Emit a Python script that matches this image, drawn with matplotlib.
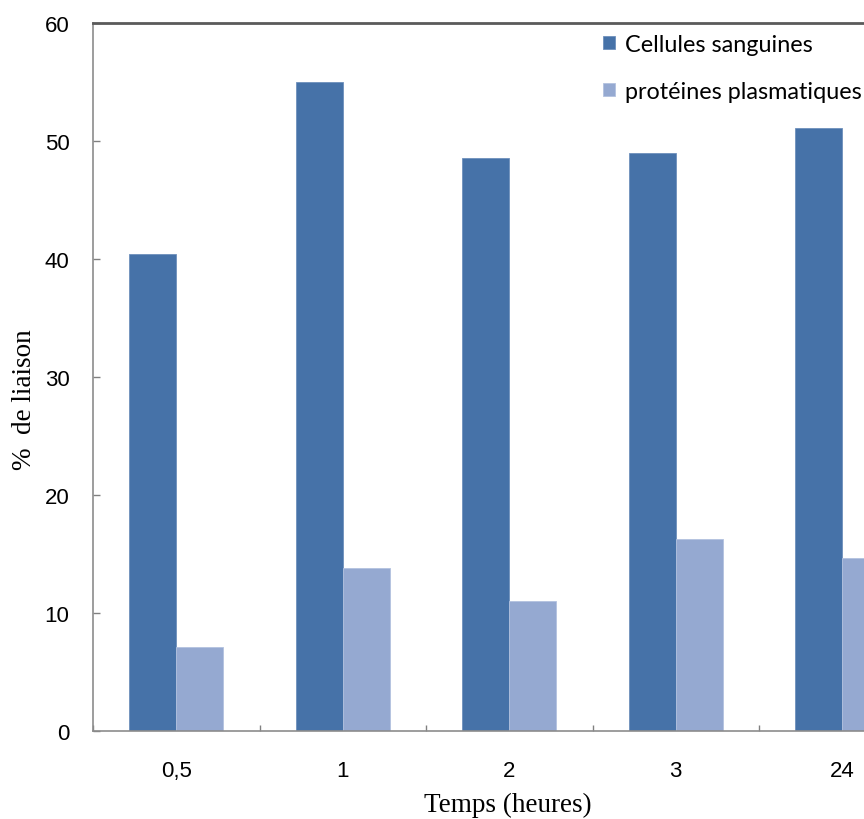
import matplotlib
matplotlib.use("Agg")
import matplotlib.pyplot as plt
import numpy as np

# données
temps = ["0,5", "1", "2", "3", "24"]
cellules = [40.4, 55.0, 48.6, 49.0, 51.1]
proteines = [7.1, 13.8, 11.0, 16.3, 14.7]
series_noms = ["Cellules sanguines", "protéines plasmatiques"]

W, H = 864, 820
fig = plt.figure(figsize=(W / 100, H / 100), dpi=100)

# l'axe dépasse à droite (image rognée)
x0, x1, ytop, ybot = 93, 925.5, 24, 732
ax = fig.add_axes([x0 / W, 1 - ybot / H, (x1 - x0) / W, (ybot - ytop) / H])

x = np.arange(len(temps))
bw = 0.282
ax.bar(x - bw / 2, cellules, bw, color="#4672A8", edgecolor="#6E90BC",
       linewidth=0.6, label=series_noms[0])
ax.bar(x + bw / 2, proteines, bw, color="#95A9D1", edgecolor="#B3C2DF",
       linewidth=0.6, label=series_noms[1])

ax.set_xlim(-0.5, len(temps) - 0.5)
ax.set_ylim(0, 60)
ax.set_yticks(range(0, 61, 10))

ax.set_xticks(x)
ax.set_xticklabels(temps, family="Liberation Sans", fontsize=16)
ax.set_xticks(np.arange(len(temps) + 1) - 0.5, minor=True)
ax.tick_params(axis="x", which="major", length=0, pad=21)
ax.tick_params(axis="x", which="minor", direction="in", length=4,
               color="#808080", width=1)
ax.tick_params(axis="y", direction="in", length=5, color="#808080",
               width=1, pad=17)
for t in ax.get_yticklabels():
    t.set_family("Liberation Sans")
    t.set_fontsize(16)

for s in ["left", "bottom"]:
    ax.spines[s].set_color("#8C8C8C")
    ax.spines[s].set_linewidth(1.2)
ax.spines["top"].set_color("#5A5A5A")
ax.spines["top"].set_linewidth(2)
ax.spines["right"].set_visible(False)

ax.legend(loc="upper left", bbox_to_anchor=(603 / W, 1 - 35 / H),
          bbox_transform=fig.transFigure, frameon=False, borderpad=0,
          borderaxespad=0, handlelength=0.5, handleheight=0.5,
          handletextpad=0.45, labelspacing=1.1,
          prop={"family": "Lato", "size": 16.8})

fig.text(508 / W, 1 - 805 / H, "Temps (heures)", family="Liberation Serif",
         fontsize=19.5, ha="center", va="center")
fig.text(25 / W, 1 - 400 / H, "%  de liaison", family="Liberation Serif",
         fontsize=19.5, ha="center", va="center", rotation=90)

fig.savefig("out.png", dpi=100)
